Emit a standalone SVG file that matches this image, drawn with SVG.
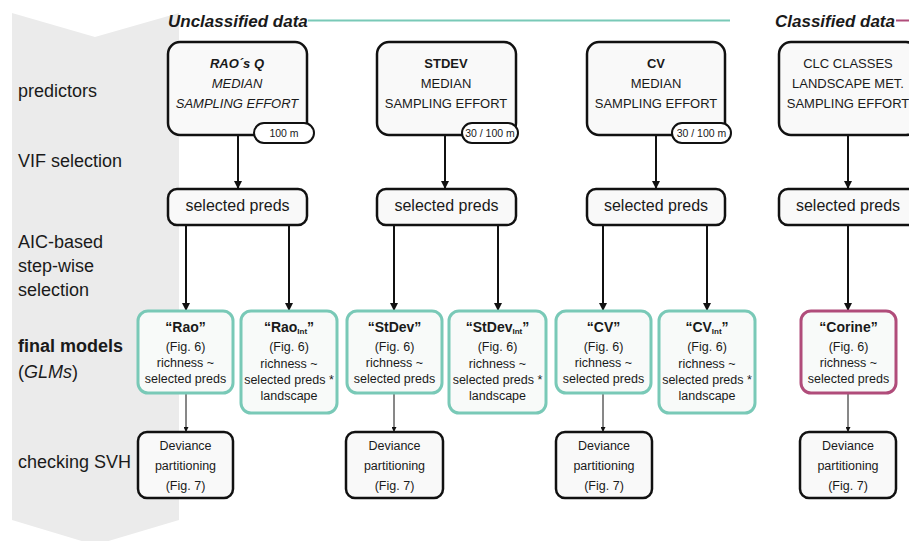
<svg xmlns="http://www.w3.org/2000/svg" width="909" height="541" viewBox="0 0 909 541">
<defs>
<marker id="ah" viewBox="0 0 10 10" refX="10" refY="5" markerWidth="8" markerHeight="8" markerUnits="userSpaceOnUse" orient="auto"><path d="M0,0 L10,5 L0,10 z" fill="#111"/></marker>
<marker id="ahs" viewBox="0 0 10 10" refX="10" refY="5" markerWidth="5" markerHeight="5" markerUnits="userSpaceOnUse" orient="auto"><path d="M0,0 L10,5 L0,10 z" fill="#111"/></marker>
</defs>
<style>
text{font-family:"Liberation Sans",Arial,sans-serif;fill:#1a1a1a}
.lab{font-size:18px}
.hdr{font-size:17px;font-weight:bold;font-style:italic}
.pbox{fill:#f9f9f9;stroke:#111;stroke-width:2.5}
.pill{fill:#fff;stroke:#111;stroke-width:2}
.sbox{fill:#f9f9f9;stroke:#111;stroke-width:2.5}
.mt{fill:#f8faf9;stroke:#79c9b7;stroke-width:3}
.mm{fill:#f8faf9;stroke:#b04c7a;stroke-width:3}
.dbox{fill:#f9f9f9;stroke:#111;stroke-width:2.5}
.p13{font-size:13px;text-anchor:middle}
.p10{font-size:10.5px;text-anchor:middle}
.s16{font-size:16px;text-anchor:middle}
.t14{font-size:14px;font-weight:bold;text-anchor:middle}
.m12{font-size:12.5px;text-anchor:middle}
.thick{stroke:#111;stroke-width:2;fill:none;marker-end:url(#ah)}
.thin{stroke:#111;stroke-width:1;fill:none;marker-end:url(#ahs)}
</style>
<rect width="909" height="541" fill="#fff"/>
<polygon points="12,13 95,37 179,13 179,520 95,545 12,520" fill="#ebebeb"/>

<g id="headers">
<text class="hdr" x="168" y="27">Unclassified data</text>
<line x1="308" y1="20.5" x2="730" y2="20.5" stroke="#79c9b7" stroke-width="2"/>
<text class="hdr" x="775" y="27">Classified data</text>
<line x1="896" y1="20.5" x2="909" y2="20.5" stroke="#b04c7a" stroke-width="2"/>
</g>

<g id="row-labels">
<text class="lab" x="18" y="97">predictors</text>
<text class="lab" x="18" y="167">VIF selection</text>
<text class="lab" x="18" y="248">AIC-based</text>
<text class="lab" x="18" y="272">step-wise</text>
<text class="lab" x="18" y="296">selection</text>
<text class="lab" x="18" y="352" font-weight="bold">final models</text>
<text class="lab" x="18" y="378">(<tspan font-style="italic">GLMs</tspan>)</text>
<text class="lab" x="18" y="468">checking SVH</text>
</g>

<g id="connectors">
<line class="thick" x1="238" y1="135" x2="238" y2="189"/>
<line class="thick" x1="445" y1="135" x2="445" y2="189"/>
<line class="thick" x1="656" y1="135" x2="656" y2="189"/>
<line class="thick" x1="848" y1="135" x2="848" y2="189"/>
<line class="thick" x1="186" y1="225" x2="186" y2="311"/>
<line class="thick" x1="289" y1="225" x2="289" y2="311"/>
<line class="thick" x1="394" y1="225" x2="394" y2="311"/>
<line class="thick" x1="498" y1="225" x2="498" y2="311"/>
<line class="thick" x1="603" y1="225" x2="603" y2="311"/>
<line class="thick" x1="707" y1="225" x2="707" y2="311"/>
<line class="thick" x1="848" y1="225" x2="848" y2="311"/>
<line class="thin" x1="186" y1="394" x2="186" y2="432"/>
<line class="thin" x1="394" y1="394" x2="394" y2="432"/>
<line class="thin" x1="603" y1="394" x2="603" y2="432"/>
<line class="thin" x1="848" y1="394" x2="848" y2="432"/>
</g>

<g id="pred-rao">
<rect class="pbox" x="168" y="42" width="139" height="93" rx="12"/>
<text class="p13" x="237" y="68" font-weight="bold" font-style="italic">RAO´s Q</text>
<text class="p13" x="237" y="88" font-style="italic">MEDIAN</text>
<text class="p13" x="237" y="108" font-style="italic">SAMPLING EFFORT</text>
<rect class="pill" x="254" y="123" width="60" height="20" rx="10"/>
<text class="p10" x="284" y="137">100 m</text>
</g>
<g id="pred-stdev">
<rect class="pbox" x="377" y="42" width="139" height="93" rx="12"/>
<text class="p13" x="446" y="68" font-weight="bold">STDEV</text>
<text class="p13" x="446" y="88">MEDIAN</text>
<text class="p13" x="446" y="108">SAMPLING EFFORT</text>
<rect class="pill" x="462" y="123" width="56" height="20" rx="10"/>
<text class="p10" x="490" y="137">30 / 100 m</text>
</g>
<g id="pred-cv">
<rect class="pbox" x="587" y="42" width="138" height="93" rx="12"/>
<text class="p13" x="656" y="68" font-weight="bold">CV</text>
<text class="p13" x="656" y="88">MEDIAN</text>
<text class="p13" x="656" y="108">SAMPLING EFFORT</text>
<rect class="pill" x="672" y="123" width="59" height="20" rx="10"/>
<text class="p10" x="701.5" y="137">30 / 100 m</text>
</g>
<g id="pred-clc">
<rect class="pbox" x="779" y="42" width="139" height="93" rx="12"/>
<text class="p13" x="848" y="68">CLC CLASSES</text>
<text class="p13" x="848" y="88">LANDSCAPE MET.</text>
<text class="p13" x="848" y="108">SAMPLING EFFORT</text>
</g>

<g id="sel-rao"><rect class="sbox" x="168" y="189" width="139" height="36" rx="9"/><text class="s16" x="237.5" y="211">selected preds</text></g>
<g id="sel-stdev"><rect class="sbox" x="377" y="189" width="139" height="36" rx="9"/><text class="s16" x="446.5" y="211">selected preds</text></g>
<g id="sel-cv"><rect class="sbox" x="587" y="189" width="138" height="36" rx="9"/><text class="s16" x="656" y="211">selected preds</text></g>
<g id="sel-clc"><rect class="sbox" x="779" y="189" width="139" height="36" rx="9"/><text class="s16" x="848" y="211">selected preds</text></g>

<g id="model-rao">
<rect class="mt" x="138" y="311" width="95" height="82" rx="10"/>
<text class="t14" x="185.5" y="332">“Rao”</text>
<text class="m12" x="185.5" y="351">(Fig. 6)</text>
<text class="m12" x="185.5" y="367">richness ~</text>
<text class="m12" x="185.5" y="383">selected preds</text>
</g>
<g id="model-raoint">
<rect class="mt" x="241" y="311" width="96" height="102" rx="10"/>
<text class="t14" x="289" y="332">“Rao<tspan font-size="8" dy="2">Int</tspan><tspan dy="-2">”</tspan></text>
<text class="m12" x="289" y="351">(Fig. 6)</text>
<text class="m12" x="289" y="368">richness ~</text>
<text class="m12" x="289" y="384">selected preds *</text>
<text class="m12" x="289" y="400">landscape</text>
</g>
<g id="model-stdev">
<rect class="mt" x="347" y="311" width="95" height="82" rx="10"/>
<text class="t14" x="394.5" y="332">“StDev”</text>
<text class="m12" x="394.5" y="351">(Fig. 6)</text>
<text class="m12" x="394.5" y="367">richness ~</text>
<text class="m12" x="394.5" y="383">selected preds</text>
</g>
<g id="model-stdevint">
<rect class="mt" x="449" y="311" width="97" height="102" rx="10"/>
<text class="t14" x="497.5" y="332">“StDev<tspan font-size="8" dy="2">Int</tspan><tspan dy="-2">”</tspan></text>
<text class="m12" x="497.5" y="351">(Fig. 6)</text>
<text class="m12" x="497.5" y="368">richness ~</text>
<text class="m12" x="497.5" y="384">selected preds *</text>
<text class="m12" x="497.5" y="400">landscape</text>
</g>
<g id="model-cv">
<rect class="mt" x="556" y="311" width="95" height="82" rx="10"/>
<text class="t14" x="603.5" y="332">“CV”</text>
<text class="m12" x="603.5" y="351">(Fig. 6)</text>
<text class="m12" x="603.5" y="367">richness ~</text>
<text class="m12" x="603.5" y="383">selected preds</text>
</g>
<g id="model-cvint">
<rect class="mt" x="659" y="311" width="96" height="102" rx="10"/>
<text class="t14" x="707" y="332">“CV<tspan font-size="8" dy="2">Int</tspan><tspan dy="-2">”</tspan></text>
<text class="m12" x="707" y="351">(Fig. 6)</text>
<text class="m12" x="707" y="368">richness ~</text>
<text class="m12" x="707" y="384">selected preds *</text>
<text class="m12" x="707" y="400">landscape</text>
</g>
<g id="model-corine">
<rect class="mm" x="801" y="311" width="95" height="82" rx="10"/>
<text class="t14" x="848.5" y="332">“Corine”</text>
<text class="m12" x="848.5" y="351">(Fig. 6)</text>
<text class="m12" x="848.5" y="367">richness ~</text>
<text class="m12" x="848.5" y="383">selected preds</text>
</g>

<g id="dev-rao"><rect class="dbox" x="138" y="432" width="95" height="66" rx="9"/>
<text class="m12" x="185.5" y="450">Deviance</text><text class="m12" x="185.5" y="470">partitioning</text><text class="m12" x="185.5" y="490">(Fig. 7)</text></g>
<g id="dev-stdev"><rect class="dbox" x="346" y="432" width="97" height="66" rx="9"/>
<text class="m12" x="394.5" y="450">Deviance</text><text class="m12" x="394.5" y="470">partitioning</text><text class="m12" x="394.5" y="490">(Fig. 7)</text></g>
<g id="dev-cv"><rect class="dbox" x="556" y="432" width="96" height="66" rx="9"/>
<text class="m12" x="604" y="450">Deviance</text><text class="m12" x="604" y="470">partitioning</text><text class="m12" x="604" y="490">(Fig. 7)</text></g>
<g id="dev-corine"><rect class="dbox" x="800" y="432" width="96" height="66" rx="9"/>
<text class="m12" x="848" y="450">Deviance</text><text class="m12" x="848" y="470">partitioning</text><text class="m12" x="848" y="490">(Fig. 7)</text></g>
</svg>
